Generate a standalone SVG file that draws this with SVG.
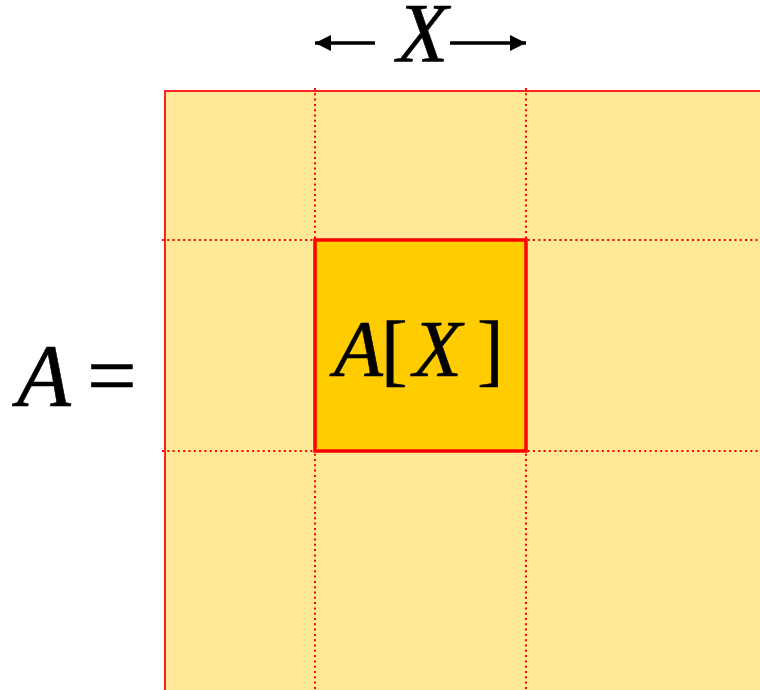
<svg xmlns="http://www.w3.org/2000/svg" width="760" height="690" viewBox="0 0 760 690">
<style>
.it{font-family:"Liberation Serif",serif;font-style:italic;fill:#000;stroke:#000;stroke-width:0.6}
.rm{font-family:"Liberation Serif",serif;fill:#000;stroke:#000;stroke-width:0.6}
.dot{stroke:#FF0000;stroke-width:2;stroke-dasharray:2 3.3;fill:none}
</style>
<defs>
<marker id="ah" viewBox="0 0 10 10" refX="10" refY="5" markerWidth="17" markerHeight="16" markerUnits="userSpaceOnUse" orient="auto">
<path d="M0,0 L10,5 L0,10 Z" fill="#000"/>
</marker>
</defs>
<g id="matrix">
<rect x="165" y="91" width="610" height="620" fill="#FFE999" stroke="#FF2020" stroke-width="2"/>
</g>
<g id="grid">
<line class="dot" x1="315" y1="88" x2="315" y2="690"/>
<line class="dot" x1="526" y1="88" x2="526" y2="690"/>
<line class="dot" x1="162" y1="240" x2="760" y2="240"/>
<line class="dot" x1="162" y1="451" x2="760" y2="451"/>
</g>
<g id="block">
<rect x="315" y="240" width="211" height="211" fill="#FFCC00" stroke="#FF0000" stroke-width="3.5"/>
<text class="it" x="334" y="376" font-size="80">A</text>
<text class="rm" x="381" y="376" font-size="80">[</text>
<text class="it" x="413" y="376" font-size="80">X</text>
<text class="rm" x="477" y="376" font-size="80">]</text>
</g>
<g id="label-A">
<text class="it" x="17" y="405" font-size="88">A</text>
<text class="rm" x="87" y="405" font-size="88">=</text>
</g>
<g id="label-X">
<text class="it" x="397" y="62" font-size="84">X</text>
</g>
<g id="connectors">
<line x1="375" y1="43" x2="315" y2="43" stroke="#000" stroke-width="3.5" marker-end="url(#ah)"/>
<line x1="450" y1="43" x2="526" y2="43" stroke="#000" stroke-width="3.5" marker-end="url(#ah)"/>
</g>
</svg>
